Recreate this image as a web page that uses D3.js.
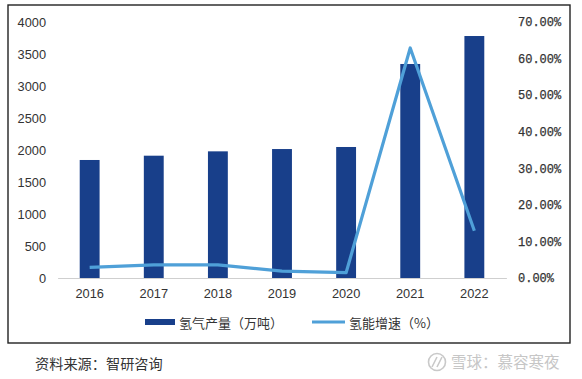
<!DOCTYPE html>
<html>
<head>
<meta charset="utf-8">
<script src="https://cdn.jsdelivr.net/npm/d3@7"></script>
<style>
  body { margin: 0; background: #fff; }
  svg { display: block; }
  text { font-family: "Liberation Sans", Arial, sans-serif; }
  .cjk { font-family: "Noto Sans CJK SC", sans-serif; }
</style>
</head>
<body>
<svg id="chart"></svg>
<script>
const years = ['2016', '2017', '2018', '2019', '2020', '2021', '2022'];
const output = [1844, 1911, 1979, 2015, 2047, 3344, 3781];
const growth = [2.9, 3.6, 3.6, 1.9, 1.45, 62.9, 12.9];
const leftTicks = [0, 500, 1000, 1500, 2000, 2500, 3000, 3500, 4000];
const rightTicks = [0, 10, 20, 30, 40, 50, 60, 70];
const barName = '氢气产量（万吨）';
const lineName = '氢能增速（%）';
const sourceNote = '资料来源：智研咨询';
const watermark = '雪球：慕容寒夜';

const width = 582, height = 379;
const navy = '#183f8a', sky = '#4fa0d8', ink = '#333';

const svg = d3.select('#chart').attr('width', width).attr('height', height);

svg.append('rect')
  .attr('x', 8).attr('y', 5)
  .attr('width', 562).attr('height', 338)
  .attr('fill', '#fff')
  .attr('stroke', '#222')
  .attr('stroke-width', 1.4);

const x = d3.scaleBand().domain(years).range([57.6, 506.4]).paddingInner(0.69).paddingOuter(0.345);
const yLeft = d3.scaleLinear().domain([0, 4000]).range([278, 22]);
const yRight = d3.scaleLinear().domain([0, 70]).range([278, 22]);

svg.selectAll('rect.bar')
  .data(years)
  .enter()
  .append('rect')
  .attr('class', 'bar')
  .attr('x', d => x(d))
  .attr('y', (d, i) => yLeft(output[i]))
  .attr('width', x.bandwidth())
  .attr('height', (d, i) => yLeft(0) - yLeft(output[i]))
  .attr('fill', navy);

// category axis, line on the baseline and year labels below
const bottom = svg.append('g')
  .attr('transform', 'translate(0,278)')
  .call(d3.axisBottom(x).tickSize(0).tickPadding(11));
bottom.select('.domain').attr('stroke', '#cfcfcf').attr('stroke-width', 1);
bottom.selectAll('text').attr('font-size', 12.8).attr('fill', ink)
  .style('font-family', '"Liberation Sans", Arial, sans-serif');

const left = svg.append('g')
  .attr('transform', 'translate(46,0)')
  .call(d3.axisLeft(yLeft).tickValues(leftTicks).tickSize(0).tickPadding(0).tickFormat(d3.format('d')));
left.select('.domain').remove();
left.selectAll('text').attr('font-size', 12.8).attr('fill', ink)
  .style('font-family', '"Liberation Sans", Arial, sans-serif');

const right = svg.append('g')
  .attr('transform', 'translate(518,0)')
  .call(d3.axisRight(yRight).tickValues(rightTicks).tickSize(0).tickPadding(0)
    .tickFormat(d => d.toFixed(2) + '%'));
right.select('.domain').remove();
right.selectAll('text').attr('font-size', 12).attr('fill', ink)
  .attr('stroke', ink).attr('stroke-width', 0.25)
  .style('font-family', '"Liberation Mono", monospace');

const line = d3.line()
  .x((d, i) => x(years[i]) + x.bandwidth() / 2)
  .y(d => yRight(d));

svg.append('path')
  .datum(growth)
  .attr('d', line)
  .attr('fill', 'none')
  .attr('stroke', sky)
  .attr('stroke-width', 3.2)
  .attr('stroke-linejoin', 'round');

// legend
const legend = svg.append('g');
legend.append('rect')
  .attr('x', 145).attr('y', 319)
  .attr('width', 30).attr('height', 6)
  .attr('fill', navy);
legend.append('text')
  .attr('class', 'cjk')
  .attr('x', 179).attr('y', 327.5)
  .attr('font-size', 13)
  .attr('fill', ink)
  .text(barName);
legend.append('line')
  .attr('x1', 312).attr('x2', 345)
  .attr('y1', 322).attr('y2', 322)
  .attr('stroke', sky)
  .attr('stroke-width', 3.2);
legend.append('text')
  .attr('class', 'cjk')
  .attr('x', 349).attr('y', 327.5)
  .attr('font-size', 13)
  .attr('fill', ink)
  .text(lineName);

svg.append('text')
  .attr('class', 'cjk')
  .attr('x', 35).attr('y', 369)
  .attr('font-size', 14.2)
  .attr('fill', '#333')
  .text(sourceNote);

// watermark, logo ring plus text
const mark = svg.append('g').attr('fill', 'none').attr('stroke', '#c9c9c9');
mark.append('circle').attr('cx', 437).attr('cy', 362).attr('r', 8.5).attr('stroke-width', 1.6);
mark.append('path').attr('d', 'M432,367 L437,357 M437,367 L442,357').attr('stroke-width', 1.6);
svg.append('text')
  .attr('class', 'cjk')
  .attr('x', 451).attr('y', 368)
  .attr('font-size', 15.5)
  .attr('fill', '#c6c6c6')
  .text(watermark);
</script>
</body>
</html>
